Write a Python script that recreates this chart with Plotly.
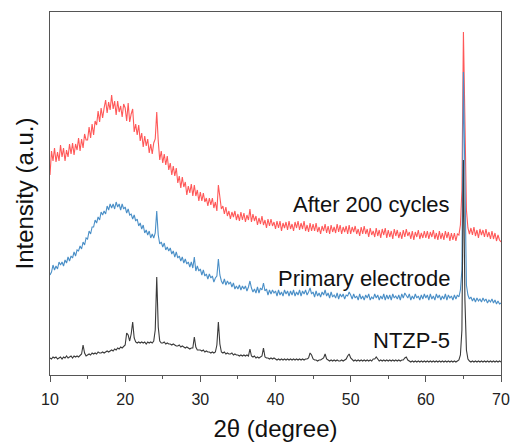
import plotly.graph_objects as go

# 2-theta sampling grid (degrees)
two_theta = [round(10 + 0.2 * i, 1) for i in range(301)]

# Intensities (a.u.), 25 points per 5 degrees
after_200 = [
    200,224,214,227,213,223,214,230,218,227,214,225,218,231,221,232,220,231,225,237,224,236,227,241,235,
    235,248,237,251,240,254,250,264,253,267,257,267,275,262,273,265,280,266,274,260,274,263,269,258,271,
    267,254,272,253,261,266,243,251,240,250,234,242,228,239,229,236,222,231,221,232,236,263,234,215,224,
    212,221,210,219,205,212,200,209,199,207,192,199,187,198,188,193,180,189,182,191,179,190,179,185,174,
    183,174,182,173,177,169,177,170,177,167,173,164,190,180,166,169,161,168,159,164,156,163,158,164,155,
    161,154,163,155,162,153,160,155,166,153,161,154,159,150,157,151,159,150,155,147,156,149,156,149,153,
    146,154,147,154,144,152,147,153,145,154,146,151,144,153,147,154,145,152,146,154,144,150,143,152,144,
    151,144,152,143,148,141,149,144,151,142,149,141,150,143,148,142,151,143,150,141,148,143,149,141,150,
    141,148,143,149,141,146,139,148,141,149,141,146,138,147,140,144,138,147,139,145,137,146,140,147,137,
    145,138,144,136,146,139,145,137,143,136,145,138,146,139,143,136,144,135,143,138,145,136,142,137,144,
    137,144,136,143,138,145,136,142,135,144,136,142,135,144,137,143,134,142,135,142,134,141,140,150,185,
    343,255,165,147,141,147,140,148,139,145,137,146,140,145,138,146,138,143,136,144,136,142,134,140,135,
    133,
]

primary = [
    100,103,110,105,109,106,113,110,113,109,115,112,118,114,119,117,123,119,125,124,129,126,133,130,137,
    136,144,141,148,148,155,152,158,155,163,160,164,161,169,165,171,167,171,166,173,168,171,165,171,166,
    168,162,166,160,161,156,160,154,156,149,152,146,150,142,145,140,144,137,141,137,142,164,140,131,133,
    128,132,125,128,124,127,121,124,118,123,117,119,114,118,112,116,111,113,108,113,107,118,104,109,104,
    106,100,105,99,101,96,101,97,99,93,97,99,116,100,94,91,96,90,94,91,93,88,92,86,89,
    86,90,85,89,86,89,84,88,94,87,83,86,82,88,82,87,85,92,84,86,80,85,81,85,82,
    84,79,85,80,83,79,85,81,84,79,84,80,85,79,83,80,85,79,84,81,85,80,83,87,81,
    83,78,84,79,82,78,83,80,85,79,82,77,83,78,80,77,82,76,81,78,81,76,80,79,83,
    80,76,81,77,79,75,81,76,79,75,80,77,81,75,78,76,81,77,80,75,79,76,81,75,80,
    76,80,75,81,77,79,76,80,75,81,77,82,80,77,81,75,79,76,81,77,79,75,80,76,81,
    77,80,75,81,76,79,75,81,77,80,75,79,76,81,75,80,77,79,75,80,76,80,78,85,105,
    303,175,90,80,76,78,74,77,73,77,74,76,73,77,74,76,72,75,73,76,72,75,71,74,71,
    72,
]

ntzp5 = [
    17,16,18,17,18,16,17,18,16,18,17,19,17,18,19,17,19,18,19,18,20,21,30,22,19,
    20,21,20,22,21,22,21,23,22,22,23,22,23,24,23,24,25,24,26,25,27,26,28,27,29,
    30,42,40,34,41,53,37,33,32,33,32,33,32,33,31,33,32,33,32,34,45,98,48,34,32,
    32,33,31,32,31,31,30,31,30,29,29,30,28,29,28,27,28,27,26,27,27,38,28,25,25,
    25,24,25,23,24,23,23,22,23,22,23,30,53,31,23,22,23,21,22,21,21,22,20,21,20,
    20,19,20,19,20,19,20,19,26,19,18,19,17,18,17,18,19,27,18,17,17,16,17,16,17,
    16,15,16,15,16,15,16,15,16,15,16,15,16,15,16,15,16,15,16,15,16,16,17,22,20,
    16,15,15,14,15,15,16,17,21,16,15,14,15,14,15,14,15,14,14,15,14,15,16,19,21,
    17,15,14,15,14,15,14,15,14,15,14,15,14,15,14,16,16,18,16,14,15,14,15,14,15,
    14,15,14,15,14,15,14,15,14,15,15,17,18,15,14,13,14,13,14,13,14,13,14,13,14,
    13,14,13,14,13,14,13,14,13,14,13,14,13,14,13,14,13,14,13,14,13,14,15,20,45,
    215,75,25,16,14,13,14,13,14,13,14,13,14,13,14,13,14,13,14,13,14,13,14,13,14,
    13,
]

series_names = ["After 200 cycles", "Primary electrode", "NTZP-5"]
series_data = [after_200, primary, ntzp5]
series_colors = ["rgba(255,70,70,0.9)", "#4A8FC7", "#3A3A3A"]
label_y = [171, 97, 35]
label_x = 63.5

x_ticks = [10, 20, 30, 40, 50, 60, 70]

fig = go.Figure()
for name, ys, col in zip(series_names, series_data, series_colors):
    fig.add_trace(go.Scatter(x=two_theta, y=ys, mode="lines", name=name,
                             line=dict(color=col, width=1.1)))

for name, yy in zip(series_names, label_y):
    fig.add_annotation(x=label_x, y=yy, text=name, showarrow=False,
                       xanchor="right", yanchor="middle",
                       font=dict(size=22, color="#111111"))

axis_col = "#555555"
fig.update_layout(
    width=512, height=442,
    margin=dict(l=50, r=11, t=12, b=67, autoexpand=False),
    plot_bgcolor="white", paper_bgcolor="white",
    showlegend=False,
    font=dict(family="Liberation Sans, Arial, sans-serif", color="#111111"),
    xaxis=dict(
        range=[10, 70], showline=True, linecolor=axis_col, linewidth=1.3, mirror=True,
        ticks="outside", ticklen=6, tickwidth=1.2, tickcolor=axis_col,
        tickvals=x_ticks, ticktext=[str(t) for t in x_ticks],
        tickfont=dict(size=16, color="#222222"), ticklabelstandoff=4,
        minor=dict(ticks="outside", ticklen=3, tickwidth=1.1, tickcolor=axis_col, dtick=5, tick0=10),
        showgrid=False, zeroline=False, automargin=False,
        title=dict(text="2θ (degree)", font=dict(size=24), standoff=18),
    ),
    yaxis=dict(
        range=[0, 363], showline=True, linecolor=axis_col, linewidth=1.3, mirror=True,
        showticklabels=False, ticks="", showgrid=False, zeroline=False, automargin=False,
        title=dict(text="Intensity (a.u.)", font=dict(size=24), standoff=8),
    ),
)

fig.write_html("out.html")
